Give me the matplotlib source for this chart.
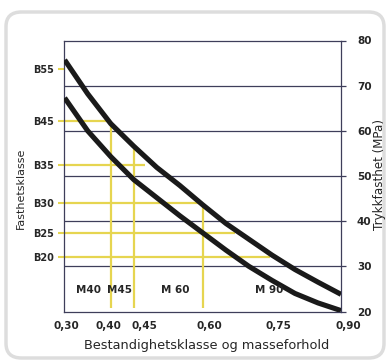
import matplotlib
matplotlib.use("Agg")
import matplotlib.pyplot as plt
from matplotlib.patches import FancyBboxPatch
from matplotlib.transforms import ScaledTranslation

# ---- data ----
wc = [0.30, 0.35, 0.40, 0.45, 0.50, 0.55, 0.60, 0.65, 0.70, 0.75, 0.80, 0.85, 0.90]
upper_curve = [75.7, 68.2, 61.6, 56.6, 51.9, 47.9, 43.6, 39.5, 36.0, 32.5, 29.3, 26.5, 23.8]
lower_curve = [67.3, 60.0, 54.3, 49.2, 45.2, 41.2, 37.4, 33.6, 30.0, 26.9, 24.0, 21.9, 20.2]

b_labels = ["B20", "B25", "B30", "B35", "B45", "B55"]
b_strength = [32.1, 37.3, 44.1, 52.4, 62.1, 73.7]

guide_strength = [62.1, 52.4, 44.1, 37.3, 32.1]
guide_wc_end = [0.40, 0.475, 0.60, 0.67, 0.746]

vert_wc = [0.40, 0.45, 0.60]
vert_top = [62.1, 56.0, 44.0]
vert_bottom = 20.7

m_labels = ["M40", "M45", "M 60", "M 90"]
m_label_wc = [0.351, 0.418, 0.540, 0.744]
m_label_y = 24.7

x_ticks = [0.30, 0.40, 0.45, 0.60, 0.75, 0.90]
x_ticklabels = ["0,30", "0,40", "0,45", "0,60", "0,75", "0,90"]
right_ticks = [20, 30, 40, 50, 60, 70, 80]

# ---- layout ----
W, H, DPI = 390, 364, 100
fig = plt.figure(figsize=(W / DPI, H / DPI), dpi=DPI)
fig.patch.set_facecolor("white")

box = FancyBboxPatch((6 / W, 6 / H), 378 / W, 346 / H,
                     boxstyle="round,pad=0,rounding_size=0.04",
                     transform=fig.transFigure, facecolor="none",
                     edgecolor="#dddddd", linewidth=2.5, zorder=-5)
fig.patches.append(box)

ax = fig.add_axes([63.5 / W, 1 - 311.5 / H, (341 - 63.5) / W, (311.5 - 40.5) / H])
ax.set_xlim(0.2975, 0.90)
ax.set_ylim(20, 80)
ax.patch.set_alpha(0)

grid_col = "#3e3e5a"
yellow = "#e6d550"
txt_col = "#262626"

for g in [30, 40, 50, 60, 70]:
    ax.axhline(g, color=grid_col, lw=0.9, zorder=1)

for s, e in zip(guide_strength, guide_wc_end):
    ax.plot([0.2975, e], [s, s], color=yellow, lw=1.6, zorder=2, solid_capstyle="butt")
for x, t in zip(vert_wc, vert_top):
    ax.plot([x, x], [vert_bottom, t], color=yellow, lw=1.6, zorder=2, solid_capstyle="butt")

for curve in (upper_curve, lower_curve):
    ax.plot(wc, curve, color="#1a1a1a", lw=3.7, zorder=4,
            solid_capstyle="butt", solid_joinstyle="round")

for lab, x in zip(m_labels, m_label_wc):
    ax.text(x, m_label_y, lab, ha="center", va="center", fontsize=7.5,
            fontweight="bold", color=txt_col, zorder=5)

for sp in ax.spines.values():
    sp.set_color(grid_col)
    sp.set_linewidth(0.9)

# left: strength classes
ax.set_yticks(b_strength)
ax.set_yticklabels(b_labels, fontsize=7, fontweight="bold", color=txt_col)
ax.tick_params(axis="y", colors=yellow, length=4, width=1.5, pad=2.5, labelcolor=txt_col)

# bottom
ax.set_xticks(x_ticks)
ax.set_xticklabels(x_ticklabels, fontsize=7.5, fontweight="bold", color=txt_col)
ax.tick_params(axis="x", length=0, pad=7)
offsets_px = [2, -2.5, 11, 7, 6.5, 7]
for lab, dx in zip(ax.get_xticklabels(), offsets_px):
    lab.set_transform(lab.get_transform() + ScaledTranslation(dx / DPI, 0, fig.dpi_scale_trans))

# right: compressive strength
ax2 = ax.twinx()
ax2.set_ylim(20, 80)
ax2.set_yticks(right_ticks)
ax2.set_yticklabels([str(t) for t in right_ticks], fontsize=7.5, fontweight="bold", color=txt_col)
ax2.tick_params(axis="y", colors=grid_col, length=3.5, width=0.9, pad=8, labelcolor=txt_col)
for sp in ax2.spines.values():
    sp.set_visible(False)

fig.text(21 / W, 1 - 188 / H, "Fasthetsklasse", rotation=90, ha="center", va="center",
         fontsize=8, color=txt_col)
fig.text(379 / W, 1 - 174 / H, "Trykkfasthet (MPa)", rotation=90, ha="center", va="center",
         fontsize=8.6, color=txt_col)
fig.text(207 / W, 1 - 345 / H, "Bestandighetsklasse og masseforhold", ha="center", va="center",
         fontsize=9.3, color=txt_col)

fig.savefig("out.png", dpi=DPI)
